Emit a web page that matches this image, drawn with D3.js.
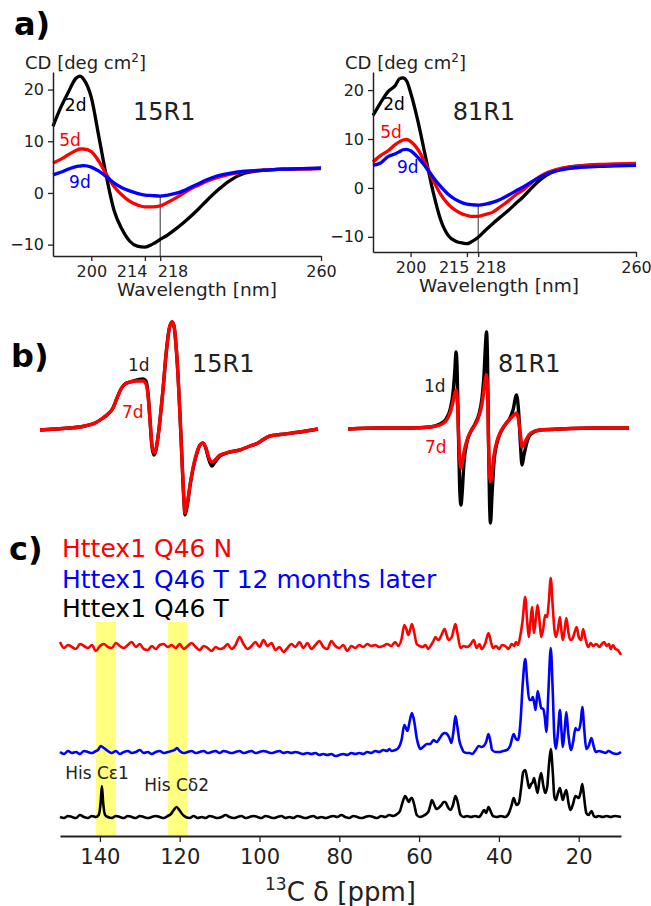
<!DOCTYPE html>
<html lang="en">
<head>
    <meta charset="UTF-8">
    <title>CD, EPR and 13C NMR of Httex1</title>
    <script src="https://cdn.jsdelivr.net/npm/d3@7"></script>
    <style>
        body { margin: 0; background: #fff; }
        text { font-family: "DejaVu Sans", sans-serif; }
    </style>
</head>
<body>
<script>
// ---------- a) CD spectra ----------
var wl15 = [190,192,194,196,197,198,200,202,204,206,208,210,212,214,216,218,220,222,224,226,228,230,233,236,240,245,250,255,260];
var cd15_2d = [12.9,16.5,19.5,22.2,22.6,22.0,18.5,10.8,3.0,-3.5,-7,-9.3,-10.3,-10.5,-9.9,-9,-8.1,-7,-5.8,-4.5,-3.1,-1.6,0.5,2.3,3.8,4.4,4.6,4.7,4.8];
var cd15_5d = [5.8,6.5,7.4,8.2,8.5,8.5,8.0,6.1,3.5,1.2,-0.4,-1.6,-2.3,-2.7,-2.7,-2.5,-1.8,-1.0,-0.1,0.8,1.5,2.2,3.0,3.6,4.1,4.4,4.6,4.6,4.7];
var cd15_9d = [3.5,4.0,4.6,5.1,5.2,5.3,5.0,4.2,3.1,1.9,1.0,0.4,-0.1,-0.4,-0.5,-0.6,-0.4,-0.1,0.4,1.1,1.8,2.5,3.3,3.8,4.2,4.4,4.6,4.7,4.8];

var wl81 = [190,192,194,196,197,198,199,200,202,204,206,208,210,212,214,215,216,218,220,222,224,226,228,230,233,236,240,245,250,255,260];
var cd81_2d = [14.8,17.4,19.7,21.0,22.3,22.5,21.8,19.5,13.5,6.3,-0.8,-6.5,-9.7,-10.9,-11.3,-11.4,-11.1,-10.1,-8.6,-7.2,-5.9,-4.6,-3.2,-1.8,0.6,2.5,3.9,4.5,4.7,4.8,4.8];
var cd81_5d = [5.3,6.6,7.6,8.9,9.4,9.8,9.9,9.5,7.8,4.9,1.6,-1.3,-3.3,-4.6,-5.4,-5.6,-5.8,-5.8,-5.4,-4.9,-3.8,-2.7,-1.4,-0.4,1.6,3.0,4.0,4.5,4.8,4.9,5.0];
var cd81_9d = [4.6,5.1,6.4,7.0,7.4,7.8,7.9,7.6,6.2,4.3,2.2,0.3,-1.3,-2.4,-3.1,-3.3,-3.4,-3.5,-3.3,-2.9,-2.3,-1.5,-0.6,0.2,1.6,2.8,3.7,4.2,4.4,4.5,4.6];

var cdTicksY = [-10, 0, 10, 20];
var cdTicks15 = [200, 214, 218, 260];
var cdTicks81 = [200, 215, 218, 260];

// ---------- b) EPR spectra [field G, amplitude] ----------
var epr15_1d = [[3440,0],[3446,1],[3452,2],[3458,4],[3462,7],[3465.2,12],[3467.2,16],[3469.2,22],[3470.8,32],[3472.4,41],[3474,46],[3476,48],[3478.8,50],[3481.2,51],[3482.4,49],[3483.2,37],[3484,10],[3484.8,-17],[3485.6,-25],[3486.4,-20],[3487.2,-7],[3488,10],[3489.2,40],[3490.4,75],[3491.6,100],[3492.8,108],[3493.6,104],[3494.4,85],[3495.2,55],[3496,15],[3496.8,-30],[3497.6,-72],[3498,-85],[3498.8,-77],[3500,-56],[3501.2,-39],[3502.8,-23],[3504,-15],[3505.2,-13],[3506.4,-19],[3507.6,-30],[3508.8,-36],[3510,-32],[3512,-26],[3516,-22],[3520,-20],[3524,-16],[3527.2,-13],[3529.6,-9],[3532,-6],[3536,-4.5],[3544,-2],[3551.2,1]];
var epr15_7d = [[3440,0],[3446,1],[3452,2],[3458,4],[3462,7],[3465.2,12],[3467.2,16],[3469.2,22],[3470.8,32],[3472.4,41],[3474,46],[3476,48],[3478.8,49],[3481.2,49],[3482.4,46],[3483.2,35],[3484,10],[3484.8,-15],[3485.6,-23],[3486.4,-19],[3487.2,-7],[3488,10],[3489.2,40],[3490.4,75],[3491.6,100],[3492.8,108],[3493.6,104],[3494.4,85],[3495.2,55],[3496,15],[3496.8,-30],[3497.6,-70],[3498,-83],[3498.8,-75],[3500,-55],[3501.2,-38],[3502.8,-22],[3504,-15],[3505.2,-13],[3506.4,-18],[3507.6,-28],[3508.8,-32],[3510,-30],[3512,-25],[3516,-22],[3520,-20],[3524,-16],[3527.2,-13],[3529.6,-9],[3532,-6],[3536,-4.5],[3544,-2],[3551.2,1]];

var epr81_1d = [[3440,1],[3452.8,2],[3464.8,2],[3472.8,3],[3476.8,6],[3479.2,11],[3480.8,20],[3482,37],[3482.8,62],[3483.2,78],[3483.6,65],[3484,20],[3484.4,-30],[3484.8,-65],[3485.2,-75],[3485.6,-65],[3486.4,-32],[3487.6,-12],[3489.2,-1],[3490.8,6],[3492.4,16],[3493.6,32],[3494.4,55],[3495,85],[3495.4,98],[3495.8,70],[3496.2,-10],[3496.6,-70],[3497,-93],[3497.6,-65],[3498.4,-32],[3499.6,-13],[3500.8,-4],[3502.8,5],[3504.8,12],[3506,20],[3507.4,35],[3508.2,20],[3509,-15],[3509.6,-35],[3510.4,-25],[3511.6,-12],[3513.2,-4],[3516.8,0],[3524.8,1],[3540.8,2],[3552.4,2]];
var epr81_7d = [[3440,1],[3452.8,2],[3464.8,2],[3472.8,3],[3476.8,5],[3479.2,9],[3480.8,17],[3482,28],[3482.8,37],[3483.2,40],[3483.6,35],[3484,10],[3484.4,-15],[3484.8,-32],[3485.2,-38],[3485.6,-35],[3486.4,-22],[3487.6,-10],[3489.2,-1],[3490.8,5],[3492.4,14],[3493.6,26],[3494.4,40],[3495,52],[3495.4,55],[3495.8,40],[3496.2,-10],[3496.6,-45],[3497,-52],[3497.6,-42],[3498.4,-25],[3499.6,-11],[3500.8,-3],[3502.8,5],[3504.8,11],[3506.4,15],[3507.4,17],[3508.2,10],[3509,-5],[3509.6,-17],[3510.4,-14],[3511.6,-8],[3513.2,-3],[3516.8,0],[3524.8,1],[3540.8,2],[3552.4,2]];

// ---------- c) 13C NMR spectra [ppm, intensity] ----------
var nmrN = [[150,5],[149,-1],[148,2],[147,0],[146,-2],[145,3],[144,1],[143,-1],[142,2],[141,-4],[140,1],[139,3],[138,0],[137,-1],[136,4],[135,1],[134,-1],[133,2],[132,5],[131,0],[130,3],[129,-2],[128,-3],[127,1],[126,-2],[125,2],[124,3],[123,0],[122,2],[121,-1],[120,3],[119,-2],[118,1],[117,4],[116,0],[115,-3],[114,1],[113,-1],[112,-4],[111,0],[110,-2],[109,-1],[108,3],[107,-2],[106,2],[105,10],[104,3],[103,-2],[102,1],[101,5],[100,0],[99,7],[98,1],[97,4],[96,-3],[95,0],[94,-5],[93,-1],[92,3],[91,0],[90,5],[89,-1],[88,4],[87,-2],[86,2],[85,6],[84,0],[83,-2],[82,6],[81,1],[80,-1],[79,2],[78,-4],[77,1],[76,-1],[75,2],[74,0],[73,3],[72,1],[71,2],[70,0],[69,1],[68,3],[67,1],
    [66,5],[65.2,1],[64.4,8],[63.7,22],[63.2,18],[62.7,12],[62.2,18],[61.8,23],[61.2,14],[60.6,3],[59.8,1],[59.1,0],[58.4,2],[57.7,-2],[57,2],[56.4,6],[55.9,10],[55.5,8],[55.1,7],[54.4,12],[53.6,18],[53.1,12],[52.6,7],[51.8,10],[51.3,18],[50.9,23],[50.4,14],[49.6,-1],[48.8,1],[48,0],[47.2,2],[46.3,7],[45.6,-1],[44.9,3],[44.3,-2],[43.4,4],[42.6,14],[42,5],[41.5,-1],[40.7,1],[40,-2],[39.2,2],[38.4,1],[37.6,-2],[36.8,3],[36.2,1],[35.7,5],[35.2,2],[34.7,10],[34.1,25],[33.4,50],[32.9,25],[32.5,10],[32.1,25],[31.7,40],[31.2,14],[30.7,30],[30.3,42],[29.8,25],[29.4,10],[28.9,18],[28.4,32],[27.9,30],[27.5,45],[27,69],[26.5,40],[26.1,18],[25.7,10],[25.2,18],[24.7,30],[24.3,15],[24,7],[23.6,15],[23.1,29],[22.6,15],[22.1,7],[21.6,8],[21,15],[20.5,20],[20,10],[19.4,7],[18.9,18],[18.3,8],[17.6,0],[17,4],[16.4,1],[15.6,3],[14.8,0],[14.2,3],[13.6,5],[13,1],[12.4,3],[12,-2],[11.4,2],[10.8,-2],[10.2,-3],[9.4,-8]];

var nmrT12 = [[150,0],[149,-2],[148,1],[147,-1],[146,0],[145,-2],[144,1],[143,0],[142,-1],[141,1],[140.5,2],[139.8,6],[139,4],[138,1],[137,-1],[136,1],[135,-2],[134,0],[133,1],[132,-1],[131,0],[130,2],[129,-1],[128,0],[127,-2],[126,0],[125,1],[124,-1],[123,0],[122,1],[121.3,2],[120.7,4],[120,1],[119,-1],[118,0],[117,1],[116,-1],[115,0],[114,1],[113,-1],[112,0],[111,1],[110,-1],[109,1],[108,0],[107,-1],[106,0],[105,1],[104,-1],[103,0],[102,1],[101,-1],[100,0],[99,1],[98,0],[97,-1],[96,0],[95,1],[94,-1],[93,0],[92,-1],[91,0],[90,-1],[89,-2],[88,-1],[87,-2],[86,-1],[85,-3],[84,-2],[83,-3],[82,-2],[81,-4],[80,-3],[79,-2],[78,-3],[77,-1],[76,-2],[75,-1],[74,-2],[73,0],[72,-1],[71,1],[70,0],[69,2],[68,1],[67.5,3],[66.9,1],
    [66,2],[65.2,4],[64.4,12],[63.7,27],[62.9,21],[62.4,30],[61.8,39],[61.2,30],[60.6,14],[60,5],[59.7,3],[59,5],[58,8],[57.2,8],[56.4,12],[55.6,10],[54.8,14],[54.1,18],[53.5,19],[53,18],[52.4,14],[51.9,9],[51.4,20],[50.9,36],[50.4,25],[49.9,11],[49.3,4],[48.8,0],[48,-1],[47.3,-1],[46.7,-2],[46,1],[45,6],[44.4,5],[43.8,6],[43.2,10],[42.6,18],[42.1,10],[41.7,2],[40.8,0],[39.9,0],[39,1],[38,2],[37.2,6],[36.3,18],[35.7,13],[35.2,12],[34.6,30],[34,70],[33.4,93],[32.9,70],[32.4,52],[31.9,52],[31.5,55],[31.1,48],[30.8,42],[30.3,61],[29.8,52],[29.4,44],[28.9,43],[28.5,35],[28.1,20],[27.6,60],[27,104],[26.5,60],[26.1,15],[25.7,3],[25.2,20],[24.7,42],[24.3,20],[24,5],[23.6,18],[23.1,40],[22.6,18],[21.9,2],[21.4,10],[20.8,24],[20.4,22],[20,22],[19.5,30],[19.1,45],[18.6,22],[18.1,3],[17.5,6],[16.8,14],[16.2,5],[15.7,0],[15,1],[14,0],[13.3,-1],[12.5,1],[11.6,-1],[10.4,-2],[9.4,0]];

var nmrT = [[150,0],[149,-1],[148,1],[147,0],[146,-1],[145,2],[144,0],[143,-1],[142,1],[141,0],[140.3,2],[139.8,15],[139.5,31],[139.2,15],[138.7,2],[138,0],[137,-1],[136,1],[135,0],[134,-1],[133,1],[132,0],[131,-1],[130,1],[129,0],[128,-1],[127,0],[126,1],[125,0],[124,-1],[123,1],[122.2,3],[121.5,7],[120.8,10],[120.1,7],[119.4,3],[118.5,0],[117.5,-1],[116.5,1],[115.5,-1],[114.5,0],[113.5,-1],[112.5,1],[111.5,0],[110.5,-1],[109.5,0],[108.5,2],[107.5,0],[106.5,-1],[105.5,0],[104.5,1],[103.5,-1],[102.5,0],[101.5,1],[100.5,0],[99.5,-1],[98.5,1],[97.5,0],[96.5,-1],[95.5,0],[94.5,1],[93.5,-1],[92.5,0],[91.5,-1],[90.5,1],[89.5,0],[88.5,-1],[87.5,0],[86.5,1],[85.5,-1],[84.5,0],[83.5,-1],[82.5,0],[81.5,1],[80.5,0],[79.5,2],[78.5,0],[77.5,-1],[76.5,1],[75.5,0],[74.5,-1],[73.5,0],[72.5,1],[71.5,0],[70.5,-1],[69.5,1],[68.5,0],[67.5,2],[66.5,1],
    [65.5,3],[64.8,6],[64.2,14],[63.5,21],[62.9,17],[62.6,15],[62.2,18],[61.8,19],[61.2,12],[60.6,2],[59.8,0],[59,1],[58.2,3],[57.6,6],[57.1,13],[56.8,17],[56.3,13],[55.6,8],[55.1,9],[54.4,12],[53.8,15],[53.4,15],[52.8,10],[52.2,7],[51.5,12],[50.9,21],[50.4,16],[49.6,2],[48.8,0],[48,1],[47,0],[46,1],[45,0],[44.5,2],[43.7,7],[43.2,4],[42.6,10],[42,5],[41.5,1],[40.5,0],[39.5,1],[38.5,0],[37.6,3],[36.8,12],[36.3,19],[35.6,12],[35,14],[34.4,30],[33.9,45],[33.4,47],[32.9,38],[32.4,29],[31.9,33],[31.5,35],[31.2,39],[30.8,32],[30.3,24],[29.8,38],[29.4,44],[28.9,32],[28.4,24],[27.9,30],[27.5,50],[27,68],[26.5,45],[26.1,20],[25.7,17],[25.2,24],[24.7,29],[24.3,22],[24,17],[23.6,22],[23.1,27],[22.6,15],[22.1,7],[21.5,12],[20.8,21],[20.4,20],[20,19],[19.5,25],[19.1,33],[18.6,18],[18.1,4],[17.5,2],[16.8,6],[16.2,1],[15.7,0],[15,1],[14,0],[13,1],[12,0],[11,1],[9.4,0]];

var nmrTicks = [140, 120, 100, 80, 60, 40, 20];
var hisBands = [[141, 136], [123, 118]];
var legendNames = ["Httex1 Q46 N", "Httex1 Q46 T 12 months later", "Httex1 Q46 T"];

var w = 651, h = 906;
var svg = d3.select("body").append("svg")
    .attr("width", w)
    .attr("height", h);

function label(x, y, txt, size, color, weight) {
    return svg.append("text")
        .attr("x", x).attr("y", y)
        .attr("font-size", size)
        .attr("font-weight", weight || "normal")
        .attr("fill", color || "#222")
        .text(txt);
}

function styleAxis(g, size) {
    g.selectAll("text")
        .attr("font-family", "DejaVu Sans")
        .attr("font-size", size)
        .attr("fill", "#222");
    g.selectAll("line").attr("stroke", "#222").attr("stroke-width", 1.3);
    g.select(".domain").attr("stroke", "#222").attr("stroke-width", 1.5);
}

// ---------- panel a ----------
function cdPanel(p) {
    var x = d3.scaleLinear().domain([190, 260]).range([p.left, p.right]);
    var y = d3.scaleLinear().domain(p.yDomain).range([p.bottom, 72]);
    var line = d3.line()
        .x(function(d) { return x(d[0]); })
        .y(function(d) { return y(d[1]); })
        .curve(d3.curveMonotoneX);

    // thin marker at 218 nm from the highest curve down to the axis
    var i218 = p.wl.indexOf(218);
    var top218 = d3.max(p.series, function(s) { return s.v[i218]; });
    svg.append("line")
        .attr("x1", x(218)).attr("x2", x(218))
        .attr("y1", y(top218)).attr("y2", p.bottom)
        .attr("stroke", "#333").attr("stroke-width", 1);

    p.series.forEach(function(s) {
        svg.append("path")
            .datum(d3.zip(p.wl, s.v))
            .attr("d", line)
            .attr("fill", "none")
            .attr("stroke", s.color)
            .attr("stroke-width", 3.3)
            .attr("stroke-linejoin", "round");
        label(x(s.lx), y(s.ly), s.name, 17, s.color);
    });

    var ax = svg.append("g")
        .attr("transform", "translate(0," + p.bottom + ")")
        .call(d3.axisBottom(x).tickValues(p.ticks).tickFormat(d3.format("d")).tickSize(5).tickSizeOuter(0).tickPadding(5));
    styleAxis(ax, 16);
    // the two close ticks get their labels pushed apart
    ax.selectAll(".tick text")
        .attr("text-anchor", function(d) { return d === p.ticks[1] ? "end" : (d === 218 ? "start" : "middle"); })
        .attr("dx", function(d) { return d === p.ticks[1] ? 2 : (d === 218 ? -3 : 0); });

    var ay = svg.append("g")
        .attr("transform", "translate(" + p.left + ",0)")
        .call(d3.axisLeft(y).tickValues(cdTicksY).tickFormat(function(d) { return d < 0 ? "\u2212" + (-d) : d; }).tickSize(5).tickSizeOuter(0).tickPadding(4));
    styleAxis(ay, 16);

    var yl = label(p.left - 28, 69, "CD [deg cm", 18);
    yl.append("tspan").attr("dy", -7).attr("font-size", 12).text("2");
    yl.append("tspan").attr("dy", 7).text("]");
    label(p.xlabX, p.bottom + 40, "Wavelength [nm]", 18.5).attr("text-anchor", "middle");
    label(x(p.nameX), y(p.nameY), p.name, 24);
}

cdPanel({
    left: 53, right: 321, bottom: 256, yDomain: [-12.2, 23.4],
    wl: wl15, ticks: cdTicks15, name: "15R1", nameX: 210.9, nameY: 14.1, xlabX: 197,
    series: [
        {name: "2d", v: cd15_2d, color: "#000", lx: 193.1, ly: 15.9},
        {name: "5d", v: cd15_5d, color: "#ff0000", lx: 191.6, ly: 9.1},
        {name: "9d", v: cd15_9d, color: "#0000ff", lx: 194.2, ly: 1.0}
    ]
});
cdPanel({
    left: 373, right: 636, bottom: 252, yDomain: [-13.1, 23.7],
    wl: wl81, ticks: cdTicks81, name: "81R1", nameX: 211.2, nameY: 13.9, xlabX: 499,
    series: [
        {name: "2d", v: cd81_2d, color: "#000", lx: 192.7, ly: 15.9},
        {name: "5d", v: cd81_5d, color: "#ff0000", lx: 191.9, ly: 10.2},
        {name: "9d", v: cd81_9d, color: "#0000ff", lx: 196.4, ly: 3.1}
    ]
});

// ---------- panel b ----------
var eprY = d3.scaleLinear().domain([-100, 110]).range([530, 320]);
function eprPanel(p) {
    var x = d3.scaleLinear().domain([3440, p.end]).range([p.left, p.right]);
    var line = d3.line()
        .x(function(d) { return x(d[0]); })
        .y(function(d) { return eprY(d[1]); })
        .curve(d3.curveMonotoneX);
    [[p.d1, "#000"], [p.d7, "#ff0000"]].forEach(function(s) {
        svg.append("path")
            .datum(s[0])
            .attr("d", line)
            .attr("fill", "none")
            .attr("stroke", s[1])
            .attr("stroke-width", 3.4)
            .attr("stroke-linejoin", "round");
    });
    label(x(p.l1[0]), eprY(p.l1[1]), "1d", 17, "#222");
    label(x(p.l7[0]), eprY(p.l7[1]), "7d", 17, "#ff0000");
    label(x(p.nm[0]), eprY(p.nm[1]), p.name, 24);
}
eprPanel({left: 40, right: 318, end: 3551.2, d1: epr15_1d, d7: epr15_7d, name: "15R1",
    l1: [3475.2, 59], l7: [3472.8, 12], nm: [3500.8, 58]});
eprPanel({left: 348, right: 629, end: 3552.4, d1: epr81_1d, d7: epr81_7d, name: "81R1",
    l1: [3470.4, 38], l7: [3470.8, -23], nm: [3500, 58]});

// ---------- panel c ----------
var ppm = d3.scaleLinear().domain([150, 9.4]).range([60, 621]);
var axisY = 836;

hisBands.forEach(function(b) {
    svg.append("rect")
        .attr("x", ppm(b[0]))
        .attr("width", ppm(b[1]) - ppm(b[0]))
        .attr("y", 622)
        .attr("height", axisY - 622)
        .attr("fill", "#ffff80");
});

var spectra = [
    {data: nmrN, base: 647, color: "#ff0000"},
    {data: nmrT12, base: 752, color: "#0000ff"},
    {data: nmrT, base: 817, color: "#000"}
];
spectra.forEach(function(s) {
    var yS = d3.scaleLinear().domain([0, 100]).range([s.base, s.base - 100]);
    s.y = yS;
    svg.append("path")
        .datum(s.data)
        .attr("d", d3.line()
            .x(function(d) { return ppm(d[0]); })
            .y(function(d) { return yS(d[1]); })
            .curve(d3.curveMonotoneX))
        .attr("fill", "none")
        .attr("stroke", s.color)
        .attr("stroke-width", 2.6)
        .attr("stroke-linejoin", "round");
});

var blackY = spectra[2].y;
label(ppm(148.7), blackY(38), "His C\u03b51", 17);
label(ppm(128.9), blackY(26), "His C\u03b42", 17);

var axc = svg.append("g")
    .attr("transform", "translate(0," + axisY + ")")
    .call(d3.axisBottom(ppm).tickValues(nmrTicks).tickSize(6).tickSizeOuter(0).tickPadding(7));
styleAxis(axc, 21);
axc.select(".domain").attr("stroke-width", 2);

var xl = label(265, 901, "", 26);
xl.append("tspan").attr("font-size", 17).attr("dy", -11).text("13");
xl.append("tspan").attr("dy", 11).text("C \u03b4 [ppm]");

var legendColors = ["#ff0000", "#0000ff", "#000"];
var legendY = [557, 588, 617];
legendNames.forEach(function(n, i) {
    label(62, legendY[i], n, 25, legendColors[i]);
});

// panel letters
label(14, 35, "a)", 32, "#000", "bold");
label(11, 367, "b)", 32, "#000", "bold");
label(9, 560, "c)", 32, "#000", "bold");
</script>
</body>
</html>
